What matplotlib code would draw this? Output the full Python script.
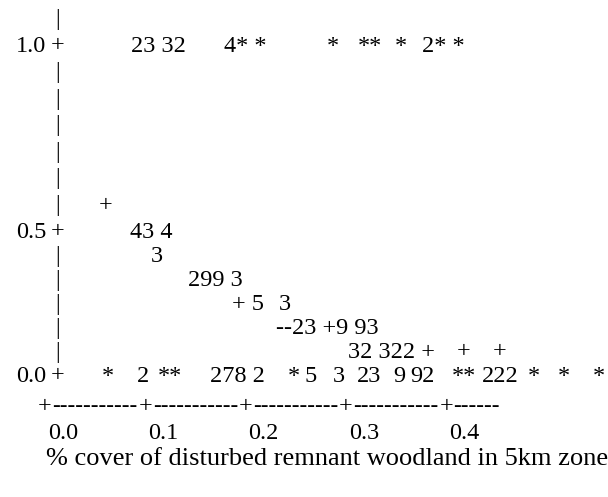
import numpy as np
import matplotlib
matplotlib.use('Agg')
import matplotlib.pyplot as plt

plt.rcParams['font.family'] = ['Liberation Serif', 'DejaVu Serif']
FS = 17.5

# character plot: each row is a response level, each symbol sits at its % cover value
row_y = [1.0, 4/7, 0.5, 5/12, 1/3, 1/4, 1/6, 1/12, 0.0]
row_x = [
    [0.086, 0.178, 0.281, 0.312, 0.349, 0.376],
    [0.054],
    [0.085],
    [0.105],
    [0.143],
    [0.186, 0.233],
    [0.230],
    [0.302, 0.411, 0.446],
    [0.057, 0.092, 0.112, 0.165, 0.242, 0.259, 0.287, 0.311, 0.347, 0.364,
     0.406, 0.436, 0.481, 0.511, 0.546],
]
row_sym = [
    ['23 32', '4* *', '*', '**', '*', '2* *'],
    ['+'],
    ['43 4'],
    ['3'],
    ['299 3'],
    ['+ 5', '3'],
    ['--23 +9 93'],
    ['32 322 +', '+', '+'],
    ['*', '2', '**', '278 2', '*', '5', '3', '23', '9', '92', '**', '222', '*', '*', '*'],
]

y_ticks = [1.0, 0.5, 0.0]
y_ticklabels = ['1.0', '0.5', '0.0']
# rows with only the axis bar
bar_rows = [1 + 1/14] + [1 - k/14 for k in range(1, 7)] + [0.5 - k/12 for k in range(1, 6)]

x_ticks = [0.0, 0.1, 0.2, 0.3, 0.4]
x_ticklabels = ['0.0', '0.1', '0.2', '0.3', '0.4']
xlabel = '% cover of disturbed remnant woodland in 5km zone'

# rows above 0.5 are spaced wider than those below it
ys = [-1, 0, 0.5, 1, 2]
ps = [-288, 0, 144, 330, 702]
fwd = lambda y: np.interp(y, ys, ps)
inv = lambda p: np.interp(p, ps, ys)

fig = plt.figure(figsize=(6.08, 4.97), dpi=100)
ax = fig.add_axes([0, 0, 1, 1])
ax.set_yscale('function', functions=(fwd, inv))
ax.set_xlim(-45/1003, 563/1003)
ax.set_ylim(-0.4201, 1.1237)
ax.axis('off')

for y, xs, syms in zip(row_y, row_x, row_sym):
    for x, s in zip(xs, syms):
        ax.text(x, y, s, fontsize=FS, ha='left', va='center')

axis_x = 0.0125
for y, lab in zip(y_ticks, y_ticklabels):
    ax.text(axis_x, y, '+', fontsize=FS, ha='center', va='center')
    ax.text(axis_x - 0.0115, y, lab, fontsize=FS, ha='right', va='center')
for y in bar_rows:
    ax.text(axis_x, y, '|', fontsize=FS - 1, ha='center', va='center')

# text-drawn x axis: '+' at each tick joined by hyphens
axis_row = -0.105
for x in x_ticks:
    ax.text(x, axis_row, '+', fontsize=FS, ha='center', va='center')
for a, b in zip(x_ticks[:-1], x_ticks[1:]):
    ax.text((a + b) / 2, axis_row, '-' * 11, fontsize=16.5, ha='center', va='center')
ax.text(x_ticks[-1] + 0.007, axis_row, '------', fontsize=16.5, ha='left', va='center')
for x, lab in zip(x_ticks, x_ticklabels):
    ax.text(x + 0.018, -0.2, lab, fontsize=FS, ha='center', va='center')

ax.text(0.281, -0.287, xlabel, fontsize=19, ha='center', va='center')

fig.savefig('out.png', dpi=100)
